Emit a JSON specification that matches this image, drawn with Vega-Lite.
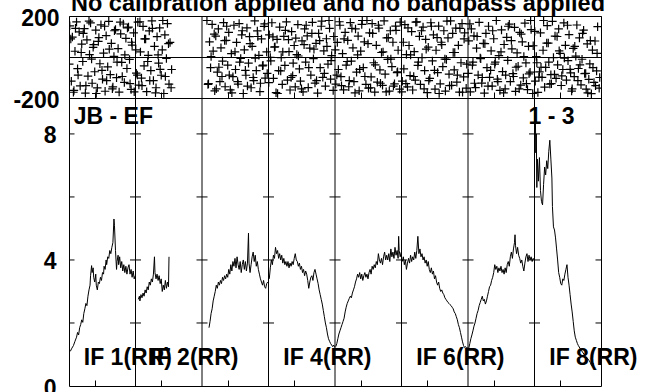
{
"$schema":"https://vega.github.io/schema/vega-lite/v6.json",
"padding":{"left":12,"top":-8,"right":0,"bottom":0},
"bounds":"flush",
"spacing":0,
"config":{
 "view":{"stroke":"black","strokeWidth":1},
 "font":"Liberation Sans",
 "axis":{"labelFont":"Liberation Sans","labelFontSize":23,"labelFontWeight":"bold","labelColor":"black","domain":false,"grid":false,"ticks":false,"title":null,"labelOverlap":false,"labelBound":false,"labelFlush":false}
},
"title":{"text":"No calibration applied and no bandpass applied","font":"Liberation Sans","fontSize":23.5,"fontWeight":"bold","color":"black","anchor":"middle","frame":"group","offset":-9,"dx":3},
"datasets":{
"bnd":[{"b":128.5},{"b":256.5},{"b":384.5},{"b":512.5},{"b":640.5},{"b":768.5},{"b":896.5}],
"yt":[{"b":0.5,"v":2},{"b":0.5,"v":4},{"b":0.5,"v":6},{"b":0.5,"v":8},
{"b":128.5,"v":2},{"b":128.5,"v":4},{"b":128.5,"v":6},{"b":128.5,"v":8},
{"b":256.5,"v":2},{"b":256.5,"v":4},{"b":256.5,"v":6},{"b":256.5,"v":8},
{"b":384.5,"v":2},{"b":384.5,"v":4},{"b":384.5,"v":6},{"b":384.5,"v":8},
{"b":512.5,"v":2},{"b":512.5,"v":4},{"b":512.5,"v":6},{"b":512.5,"v":8},
{"b":640.5,"v":2},{"b":640.5,"v":4},{"b":640.5,"v":6},{"b":640.5,"v":8},
{"b":768.5,"v":2},{"b":768.5,"v":4},{"b":768.5,"v":6},{"b":768.5,"v":8},
{"b":896.5,"v":2},{"b":896.5,"v":4},{"b":896.5,"v":6},{"b":896.5,"v":8},
{"b":1024.5,"v":2},{"b":1024.5,"v":4},{"b":1024.5,"v":6},{"b":1024.5,"v":8}],
"labs":[{"lab":"IF 1(RR)","ch0":1},{"lab":"IF 2(RR)","ch0":129},{"lab":"IF 4(RR)","ch0":385},{"lab":"IF 6(RR)","ch0":641},{"lab":"IF 8(RR)","ch0":897}],
"amp":[
{"i":1,"c":3,"a":1.1},{"i":1,"c":6,"a":1.2},{"i":1,"c":9,"a":1.28},{"i":1,"c":12,"a":1.42},{"i":1,"c":15,"a":1.55},{"i":1,"c":17,"a":1.7},{"i":1,"c":19,"a":1.62},{"i":1,"c":21,"a":1.85},{"i":1,"c":23,"a":1.95},{"i":1,"c":25,"a":2.1},{"i":1,"c":27,"a":2.02},{"i":1,"c":29,"a":2.3},{"i":1,"c":31,"a":2.45},{"i":1,"c":33,"a":2.62},{"i":1,"c":35,"a":2.55},{"i":1,"c":37,"a":2.85},{"i":1,"c":39,"a":3.05},{"i":1,"c":41,"a":3.2},{"i":1,"c":42,"a":3.5},{"i":1,"c":44,"a":3.82},{"i":1,"c":45,"a":3.6},{"i":1,"c":47,"a":3.75},{"i":1,"c":48,"a":3.45},{"i":1,"c":50,"a":3.3},{"i":1,"c":52,"a":3.55},{"i":1,"c":53,"a":3.2},{"i":1,"c":55,"a":3.05},{"i":1,"c":57,"a":3.3},{"i":1,"c":59,"a":3.25},{"i":1,"c":61,"a":3.45},{"i":1,"c":63,"a":3.35},{"i":1,"c":65,"a":3.6},{"i":1,"c":67,"a":3.55},{"i":1,"c":68,"a":3.8},{"i":1,"c":70,"a":3.7},{"i":1,"c":72,"a":4.0},{"i":1,"c":73,"a":3.85},{"i":1,"c":75,"a":4.1},{"i":1,"c":77,"a":4.05},{"i":1,"c":79,"a":4.3},{"i":1,"c":81,"a":4.2},{"i":1,"c":83,"a":4.4},{"i":1,"c":85,"a":4.55},{"i":1,"c":87,"a":5.3},{"i":1,"c":88,"a":5.1},{"i":1,"c":90,"a":4.3},{"i":1,"c":92,"a":3.7},{"i":1,"c":93,"a":3.95},{"i":1,"c":95,"a":4.15},{"i":1,"c":96,"a":3.85},{"i":1,"c":98,"a":4.1},{"i":1,"c":100,"a":3.75},{"i":1,"c":102,"a":3.95},{"i":1,"c":104,"a":3.65},{"i":1,"c":106,"a":3.85},{"i":1,"c":108,"a":3.6},{"i":1,"c":110,"a":3.8},{"i":1,"c":112,"a":3.55},{"i":1,"c":114,"a":3.75},{"i":1,"c":116,"a":3.85},{"i":1,"c":118,"a":3.55},{"i":1,"c":120,"a":3.7},{"i":1,"c":122,"a":3.45},{"i":1,"c":124,"a":3.65},{"i":1,"c":126,"a":3.4},{"i":1,"c":128,"a":3.5},
{"i":2,"c":134,"a":2.75},{"i":2,"c":136,"a":2.85},{"i":2,"c":137,"a":2.7},{"i":2,"c":139,"a":2.9},{"i":2,"c":141,"a":2.8},{"i":2,"c":143,"a":2.95},{"i":2,"c":145,"a":2.85},{"i":2,"c":147,"a":3.05},{"i":2,"c":149,"a":2.95},{"i":2,"c":151,"a":3.15},{"i":2,"c":153,"a":3.05},{"i":2,"c":155,"a":3.3},{"i":2,"c":157,"a":3.2},{"i":2,"c":159,"a":3.4},{"i":2,"c":161,"a":3.3},{"i":2,"c":163,"a":3.55},{"i":2,"c":165,"a":4.1},{"i":2,"c":166,"a":3.6},{"i":2,"c":168,"a":3.4},{"i":2,"c":170,"a":3.55},{"i":2,"c":172,"a":3.35},{"i":2,"c":174,"a":3.5},{"i":2,"c":176,"a":3.25},{"i":2,"c":178,"a":3.4},{"i":2,"c":180,"a":3.0},{"i":2,"c":182,"a":3.2},{"i":2,"c":184,"a":3.05},{"i":2,"c":186,"a":3.35},{"i":2,"c":188,"a":3.1},{"i":2,"c":190,"a":3.3},{"i":2,"c":192,"a":3.15},{"i":2,"c":193,"a":4.1},
{"i":3,"c":270,"a":1.85},{"i":3,"c":272,"a":2.05},{"i":3,"c":274,"a":2.3},{"i":3,"c":276,"a":2.45},{"i":3,"c":278,"a":2.7},{"i":3,"c":280,"a":2.85},{"i":3,"c":282,"a":3.0},{"i":3,"c":284,"a":3.2},{"i":3,"c":286,"a":3.1},{"i":3,"c":288,"a":3.3},{"i":3,"c":290,"a":3.2},{"i":3,"c":292,"a":3.35},{"i":3,"c":294,"a":3.25},{"i":3,"c":296,"a":3.45},{"i":3,"c":298,"a":3.35},{"i":3,"c":300,"a":3.5},{"i":3,"c":302,"a":3.4},{"i":3,"c":304,"a":3.55},{"i":3,"c":306,"a":3.45},{"i":3,"c":308,"a":3.7},{"i":3,"c":310,"a":3.55},{"i":3,"c":312,"a":3.85},{"i":3,"c":314,"a":3.65},{"i":3,"c":316,"a":3.95},{"i":3,"c":318,"a":3.8},{"i":3,"c":320,"a":4.05},{"i":3,"c":322,"a":3.75},{"i":3,"c":324,"a":4.1},{"i":3,"c":326,"a":3.85},{"i":3,"c":328,"a":3.7},{"i":3,"c":330,"a":3.95},{"i":3,"c":332,"a":3.6},{"i":3,"c":334,"a":3.85},{"i":3,"c":336,"a":4.0},{"i":3,"c":338,"a":3.7},{"i":3,"c":340,"a":3.95},{"i":3,"c":342,"a":3.65},{"i":3,"c":344,"a":3.9},{"i":3,"c":346,"a":4.85},{"i":3,"c":347,"a":3.9},{"i":3,"c":349,"a":3.6},{"i":3,"c":351,"a":3.85},{"i":3,"c":353,"a":4.1},{"i":3,"c":355,"a":4.25},{"i":3,"c":357,"a":3.95},{"i":3,"c":359,"a":4.15},{"i":3,"c":361,"a":3.8},{"i":3,"c":363,"a":3.95},{"i":3,"c":365,"a":3.7},{"i":3,"c":367,"a":3.55},{"i":3,"c":369,"a":3.4},{"i":3,"c":371,"a":3.3},{"i":3,"c":373,"a":3.2},{"i":3,"c":375,"a":3.35},{"i":3,"c":377,"a":3.15},{"i":3,"c":379,"a":3.1},{"i":3,"c":381,"a":3.25},{"i":3,"c":383,"a":3.3},
{"i":4,"c":386,"a":3.4},{"i":4,"c":388,"a":3.75},{"i":4,"c":390,"a":4.0},{"i":4,"c":392,"a":3.85},{"i":4,"c":394,"a":4.15},{"i":4,"c":396,"a":4.05},{"i":4,"c":398,"a":4.4},{"i":4,"c":400,"a":4.2},{"i":4,"c":402,"a":4.3},{"i":4,"c":404,"a":4.05},{"i":4,"c":406,"a":4.2},{"i":4,"c":408,"a":4.0},{"i":4,"c":410,"a":4.15},{"i":4,"c":412,"a":3.9},{"i":4,"c":414,"a":4.05},{"i":4,"c":416,"a":3.85},{"i":4,"c":418,"a":3.95},{"i":4,"c":420,"a":3.8},{"i":4,"c":422,"a":3.95},{"i":4,"c":424,"a":3.75},{"i":4,"c":426,"a":3.9},{"i":4,"c":428,"a":3.8},{"i":4,"c":430,"a":3.95},{"i":4,"c":432,"a":3.85},{"i":4,"c":434,"a":4.05},{"i":4,"c":436,"a":4.2},{"i":4,"c":438,"a":4.0},{"i":4,"c":440,"a":3.95},{"i":4,"c":442,"a":3.8},{"i":4,"c":444,"a":3.9},{"i":4,"c":446,"a":3.7},{"i":4,"c":448,"a":3.8},{"i":4,"c":450,"a":3.6},{"i":4,"c":452,"a":3.7},{"i":4,"c":454,"a":3.5},{"i":4,"c":456,"a":3.65},{"i":4,"c":458,"a":3.55},{"i":4,"c":460,"a":3.35},{"i":4,"c":462,"a":3.1},{"i":4,"c":464,"a":3.3},{"i":4,"c":466,"a":3.45},{"i":4,"c":468,"a":3.5},{"i":4,"c":470,"a":3.35},{"i":4,"c":472,"a":3.6},{"i":4,"c":474,"a":3.7},{"i":4,"c":476,"a":3.55},{"i":4,"c":478,"a":3.4},{"i":4,"c":480,"a":3.25},{"i":4,"c":482,"a":3.05},{"i":4,"c":484,"a":2.9},{"i":4,"c":486,"a":2.75},{"i":4,"c":488,"a":2.6},{"i":4,"c":490,"a":2.4},{"i":4,"c":492,"a":2.2},{"i":4,"c":494,"a":2.0},{"i":4,"c":496,"a":1.85},{"i":4,"c":498,"a":1.65},{"i":4,"c":500,"a":1.5},{"i":4,"c":502,"a":1.42},{"i":4,"c":504,"a":1.35},{"i":4,"c":506,"a":1.3},{"i":4,"c":508,"a":1.25},{"i":4,"c":510,"a":1.3},{"i":4,"c":512,"a":1.22},
{"i":5,"c":514,"a":1.25},{"i":5,"c":516,"a":1.35},{"i":5,"c":518,"a":1.5},{"i":5,"c":520,"a":1.65},{"i":5,"c":522,"a":1.75},{"i":5,"c":524,"a":1.85},{"i":5,"c":526,"a":1.95},{"i":5,"c":528,"a":2.05},{"i":5,"c":530,"a":2.15},{"i":5,"c":532,"a":2.35},{"i":5,"c":534,"a":2.5},{"i":5,"c":536,"a":2.62},{"i":5,"c":538,"a":2.7},{"i":5,"c":540,"a":2.78},{"i":5,"c":542,"a":2.85},{"i":5,"c":544,"a":2.8},{"i":5,"c":546,"a":2.95},{"i":5,"c":548,"a":3.05},{"i":5,"c":550,"a":3.15},{"i":5,"c":552,"a":3.3},{"i":5,"c":554,"a":3.4},{"i":5,"c":556,"a":3.55},{"i":5,"c":558,"a":3.45},{"i":5,"c":560,"a":3.6},{"i":5,"c":562,"a":3.4},{"i":5,"c":564,"a":3.55},{"i":5,"c":566,"a":3.35},{"i":5,"c":568,"a":3.5},{"i":5,"c":570,"a":3.6},{"i":5,"c":572,"a":3.45},{"i":5,"c":574,"a":3.55},{"i":5,"c":576,"a":3.4},{"i":5,"c":578,"a":3.6},{"i":5,"c":580,"a":3.7},{"i":5,"c":582,"a":3.55},{"i":5,"c":584,"a":3.8},{"i":5,"c":586,"a":3.7},{"i":5,"c":588,"a":3.85},{"i":5,"c":590,"a":3.75},{"i":5,"c":592,"a":3.95},{"i":5,"c":594,"a":3.85},{"i":5,"c":596,"a":4.2},{"i":5,"c":598,"a":4.0},{"i":5,"c":600,"a":3.9},{"i":5,"c":602,"a":4.05},{"i":5,"c":604,"a":3.85},{"i":5,"c":606,"a":4.1},{"i":5,"c":608,"a":4.25},{"i":5,"c":610,"a":4.0},{"i":5,"c":612,"a":4.15},{"i":5,"c":614,"a":4.0},{"i":5,"c":616,"a":4.2},{"i":5,"c":618,"a":3.95},{"i":5,"c":620,"a":4.35},{"i":5,"c":622,"a":4.1},{"i":5,"c":624,"a":4.25},{"i":5,"c":626,"a":4.05},{"i":5,"c":628,"a":4.4},{"i":5,"c":630,"a":4.15},{"i":5,"c":632,"a":4.3},{"i":5,"c":634,"a":4.05},{"i":5,"c":635,"a":4.75},{"i":5,"c":636,"a":4.3},{"i":5,"c":638,"a":4.1},{"i":5,"c":640,"a":4.25},
{"i":6,"c":642,"a":3.95},{"i":6,"c":644,"a":4.1},{"i":6,"c":646,"a":3.85},{"i":6,"c":648,"a":4.0},{"i":6,"c":650,"a":3.7},{"i":6,"c":652,"a":3.9},{"i":6,"c":654,"a":4.05},{"i":6,"c":656,"a":3.9},{"i":6,"c":658,"a":4.15},{"i":6,"c":660,"a":3.95},{"i":6,"c":662,"a":4.1},{"i":6,"c":664,"a":4.0},{"i":6,"c":666,"a":4.25},{"i":6,"c":668,"a":4.05},{"i":6,"c":670,"a":4.3},{"i":6,"c":672,"a":4.75},{"i":6,"c":674,"a":4.2},{"i":6,"c":676,"a":4.35},{"i":6,"c":678,"a":4.1},{"i":6,"c":680,"a":4.2},{"i":6,"c":682,"a":4.0},{"i":6,"c":684,"a":4.1},{"i":6,"c":686,"a":3.9},{"i":6,"c":688,"a":4.0},{"i":6,"c":690,"a":3.8},{"i":6,"c":692,"a":3.95},{"i":6,"c":694,"a":3.7},{"i":6,"c":696,"a":3.6},{"i":6,"c":698,"a":3.75},{"i":6,"c":700,"a":3.55},{"i":6,"c":702,"a":3.65},{"i":6,"c":704,"a":3.4},{"i":6,"c":706,"a":3.5},{"i":6,"c":708,"a":3.3},{"i":6,"c":710,"a":3.2},{"i":6,"c":712,"a":3.3},{"i":6,"c":714,"a":3.1},{"i":6,"c":716,"a":3.0},{"i":6,"c":718,"a":3.05},{"i":6,"c":720,"a":2.95},{"i":6,"c":722,"a":2.9},{"i":6,"c":724,"a":2.8},{"i":6,"c":726,"a":2.75},{"i":6,"c":728,"a":2.7},{"i":6,"c":730,"a":2.65},{"i":6,"c":732,"a":2.62},{"i":6,"c":734,"a":2.58},{"i":6,"c":736,"a":2.55},{"i":6,"c":738,"a":2.5},{"i":6,"c":740,"a":2.45},{"i":6,"c":742,"a":2.35},{"i":6,"c":744,"a":2.3},{"i":6,"c":746,"a":2.2},{"i":6,"c":748,"a":2.1},{"i":6,"c":750,"a":1.95},{"i":6,"c":752,"a":1.85},{"i":6,"c":754,"a":1.7},{"i":6,"c":756,"a":1.55},{"i":6,"c":758,"a":1.4},{"i":6,"c":760,"a":1.28},{"i":6,"c":762,"a":1.22},{"i":6,"c":764,"a":1.25},{"i":6,"c":766,"a":1.2},{"i":6,"c":768,"a":1.22},
{"i":7,"c":770,"a":1.2},{"i":7,"c":772,"a":1.35},{"i":7,"c":774,"a":1.5},{"i":7,"c":776,"a":1.62},{"i":7,"c":778,"a":1.75},{"i":7,"c":780,"a":1.9},{"i":7,"c":782,"a":2.0},{"i":7,"c":784,"a":2.15},{"i":7,"c":786,"a":2.3},{"i":7,"c":788,"a":2.4},{"i":7,"c":790,"a":2.55},{"i":7,"c":792,"a":2.65},{"i":7,"c":794,"a":2.75},{"i":7,"c":796,"a":2.85},{"i":7,"c":798,"a":2.7},{"i":7,"c":800,"a":2.75},{"i":7,"c":802,"a":2.6},{"i":7,"c":804,"a":2.7},{"i":7,"c":806,"a":2.85},{"i":7,"c":808,"a":3.0},{"i":7,"c":810,"a":3.15},{"i":7,"c":812,"a":3.2},{"i":7,"c":814,"a":3.35},{"i":7,"c":816,"a":3.45},{"i":7,"c":818,"a":3.6},{"i":7,"c":820,"a":3.85},{"i":7,"c":822,"a":3.7},{"i":7,"c":824,"a":3.8},{"i":7,"c":826,"a":3.6},{"i":7,"c":828,"a":3.75},{"i":7,"c":830,"a":3.65},{"i":7,"c":832,"a":3.8},{"i":7,"c":834,"a":3.6},{"i":7,"c":836,"a":3.7},{"i":7,"c":838,"a":3.55},{"i":7,"c":840,"a":3.75},{"i":7,"c":842,"a":3.6},{"i":7,"c":844,"a":3.85},{"i":7,"c":846,"a":3.95},{"i":7,"c":848,"a":3.8},{"i":7,"c":850,"a":4.1},{"i":7,"c":852,"a":4.25},{"i":7,"c":854,"a":4.05},{"i":7,"c":856,"a":4.35},{"i":7,"c":858,"a":4.55},{"i":7,"c":859,"a":4.8},{"i":7,"c":860,"a":4.45},{"i":7,"c":862,"a":4.2},{"i":7,"c":864,"a":4.4},{"i":7,"c":866,"a":4.15},{"i":7,"c":868,"a":4.05},{"i":7,"c":870,"a":3.9},{"i":7,"c":872,"a":4.0},{"i":7,"c":874,"a":3.8},{"i":7,"c":876,"a":3.65},{"i":7,"c":878,"a":3.9},{"i":7,"c":880,"a":4.1},{"i":7,"c":882,"a":4.2},{"i":7,"c":884,"a":3.95},{"i":7,"c":886,"a":4.15},{"i":7,"c":888,"a":4.0},{"i":7,"c":890,"a":4.1},{"i":7,"c":892,"a":3.95},{"i":7,"c":894,"a":4.05},{"i":7,"c":896,"a":4.0},
{"i":8,"c":898,"a":8.85},{"i":8,"c":899,"a":7.4},{"i":8,"c":900,"a":8.0},{"i":8,"c":901,"a":6.3},{"i":8,"c":902,"a":7.2},{"i":8,"c":904,"a":6.5},{"i":8,"c":906,"a":7.25},{"i":8,"c":908,"a":6.2},{"i":8,"c":910,"a":5.85},{"i":8,"c":912,"a":5.75},{"i":8,"c":914,"a":6.4},{"i":8,"c":916,"a":6.95},{"i":8,"c":918,"a":6.7},{"i":8,"c":920,"a":7.15},{"i":8,"c":922,"a":6.9},{"i":8,"c":924,"a":7.45},{"i":8,"c":926,"a":7.8},{"i":8,"c":928,"a":7.2},{"i":8,"c":930,"a":6.6},{"i":8,"c":931,"a":5.7},{"i":8,"c":933,"a":5.05},{"i":8,"c":935,"a":4.95},{"i":8,"c":937,"a":4.7},{"i":8,"c":939,"a":4.35},{"i":8,"c":941,"a":4.0},{"i":8,"c":943,"a":3.6},{"i":8,"c":945,"a":3.45},{"i":8,"c":947,"a":3.25},{"i":8,"c":949,"a":3.2},{"i":8,"c":951,"a":3.4},{"i":8,"c":953,"a":3.35},{"i":8,"c":955,"a":3.55},{"i":8,"c":957,"a":3.7},{"i":8,"c":959,"a":3.85},{"i":8,"c":961,"a":3.45},{"i":8,"c":963,"a":3.2},{"i":8,"c":965,"a":2.9},{"i":8,"c":967,"a":2.6},{"i":8,"c":969,"a":2.35},{"i":8,"c":971,"a":2.05},{"i":8,"c":973,"a":1.75},{"i":8,"c":975,"a":1.55},{"i":8,"c":977,"a":1.45},{"i":8,"c":979,"a":1.35},{"i":8,"c":981,"a":1.28},{"i":8,"c":984,"a":1.2},{"i":8,"c":987,"a":1.12},{"i":8,"c":990,"a":1.05},{"i":8,"c":993,"a":0.98},{"i":8,"c":996,"a":0.92},{"i":8,"c":999,"a":0.86},{"i":8,"c":1002,"a":0.8},{"i":8,"c":1004,"a":0.74},{"i":8,"c":1006,"a":0.66},{"i":8,"c":1008,"a":0.62},{"i":8,"c":1010,"a":0.72}
],
"ph":[
{"c":2,"p":152},{"c":5,"p":-118},{"c":7,"p":97},{"c":10,"p":-163},{"c":12,"p":28},{"c":15,"p":171},{"c":17,"p":-57},{"c":20,"p":123},{"c":22,"p":-141},{"c":25,"p":63},{"c":27,"p":-22},{"c":30,"p":138},{"c":32,"p":-176},{"c":35,"p":84},{"c":37,"p":-93},{"c":40,"p":12},{"c":42,"p":166},{"c":45,"p":-128},{"c":47,"p":47},{"c":50,"p":-72},{"c":52,"p":131},{"c":55,"p":-151},{"c":57,"p":76},{"c":60,"p":-33},{"c":62,"p":157},{"c":65,"p":-108},{"c":67,"p":19},{"c":70,"p":-167},{"c":72,"p":104},{"c":75,"p":-48},{"c":77,"p":174},{"c":80,"p":-86},{"c":82,"p":66},{"c":85,"p":-146},{"c":87,"p":3},{"c":90,"p":134},{"c":92,"p":-101},{"c":95,"p":41},{"c":97,"p":-171},{"c":100,"p":113},{"c":102,"p":-26},{"c":105,"p":161},{"c":107,"p":-124},{"c":110,"p":91},{"c":112,"p":-56},{"c":115,"p":146},{"c":117,"p":-12},{"c":120,"p":-158},{"c":122,"p":58},{"c":125,"p":118},
{"c":1,"p":-35},{"c":4,"p":88},{"c":9,"p":-172},{"c":13,"p":140},{"c":18,"p":-88},{"c":24,"p":22},{"c":28,"p":115},{"c":33,"p":-140},{"c":39,"p":175},{"c":44,"p":-10},{"c":48,"p":60},{"c":53,"p":-178},{"c":58,"p":95},{"c":64,"p":-65},{"c":69,"p":150},{"c":73,"p":-115},{"c":78,"p":38},{"c":84,"p":-155},{"c":88,"p":128},{"c":93,"p":-25},{"c":99,"p":170},{"c":103,"p":-95},{"c":108,"p":10},{"c":113,"p":142},{"c":118,"p":-130},{"c":121,"p":72},{"c":126,"p":-170},
{"c":130,"p":-79},{"c":133,"p":170},{"c":135,"p":-137},{"c":138,"p":25},{"c":140,"p":-103},{"c":143,"p":149},{"c":145,"p":-43},{"c":148,"p":88},{"c":150,"p":-169},{"c":153,"p":8},{"c":155,"p":127},{"c":158,"p":-66},{"c":160,"p":176},{"c":163,"p":-115},{"c":165,"p":52},{"c":168,"p":-150},{"c":170,"p":99},{"c":173,"p":-30},{"c":175,"p":142},{"c":178,"p":-89},{"c":180,"p":35},{"c":183,"p":-178},{"c":185,"p":108},{"c":188,"p":-7},{"c":190,"p":163},{"c":193,"p":-132},{"c":195,"p":71},{"c":198,"p":-61},
{"c":129,"p":35},{"c":132,"p":-88},{"c":137,"p":172},{"c":141,"p":-140},{"c":146,"p":88},{"c":152,"p":-22},{"c":156,"p":-115},{"c":161,"p":140},{"c":167,"p":-175},{"c":172,"p":10},{"c":176,"p":-60},{"c":181,"p":178},{"c":186,"p":-95},{"c":192,"p":65},{"c":197,"p":-150},
{"c":266,"p":178},{"c":268,"p":-134},{"c":271,"p":74},{"c":273,"p":-52},{"c":276,"p":159},{"c":278,"p":29},{"c":281,"p":-165},{"c":283,"p":102},{"c":286,"p":-74},{"c":288,"p":137},{"c":291,"p":-120},{"c":293,"p":45},{"c":296,"p":-20},{"c":298,"p":168},{"c":301,"p":-145},{"c":303,"p":81},{"c":306,"p":-40},{"c":308,"p":120},{"c":311,"p":-160},{"c":313,"p":16},{"c":316,"p":-96},{"c":318,"p":155},{"c":321,"p":-61},{"c":323,"p":71},{"c":326,"p":-132},{"c":328,"p":163},{"c":331,"p":-7},{"c":333,"p":108},{"c":336,"p":-178},{"c":338,"p":35},{"c":341,"p":-89},{"c":343,"p":142},{"c":346,"p":-30},{"c":348,"p":99},{"c":351,"p":-150},{"c":353,"p":52},{"c":356,"p":-115},{"c":358,"p":176},{"c":361,"p":-66},{"c":363,"p":127},{"c":366,"p":8},{"c":368,"p":-169},{"c":371,"p":88},{"c":373,"p":-43},{"c":376,"p":149},{"c":378,"p":-103},{"c":381,"p":25},
{"c":269,"p":-130},{"c":274,"p":2},{"c":280,"p":112},{"c":284,"p":-155},{"c":289,"p":-50},{"c":295,"p":-95},{"c":300,"p":80},{"c":304,"p":150},{"c":309,"p":-88},{"c":314,"p":-175},{"c":320,"p":25},{"c":325,"p":-120},{"c":329,"p":-25},{"c":334,"p":128},{"c":340,"p":-65},{"c":344,"p":-142},{"c":349,"p":65},{"c":355,"p":-100},{"c":359,"p":-5},{"c":364,"p":100},{"c":369,"p":-128},{"c":374,"p":-40},{"c":377,"p":162},{"c":382,"p":-80},
{"c":386,"p":108},{"c":389,"p":-19},{"c":391,"p":167},{"c":394,"p":-104},{"c":396,"p":48},{"c":399,"p":-174},{"c":401,"p":86},{"c":404,"p":-66},{"c":406,"p":146},{"c":409,"p":-3},{"c":411,"p":-134},{"c":414,"p":101},{"c":416,"p":-41},{"c":419,"p":171},{"c":421,"p":-113},{"c":424,"p":26},{"c":426,"p":-161},{"c":429,"p":124},{"c":431,"p":-91},{"c":434,"p":56},{"c":436,"p":-146},{"c":439,"p":12},{"c":441,"p":158},{"c":444,"p":-58},{"c":446,"p":-118},{"c":449,"p":79},{"c":451,"p":-170},{"c":454,"p":137},{"c":456,"p":-25},{"c":459,"p":103},{"c":461,"p":-149},{"c":464,"p":43},{"c":466,"p":-88},{"c":469,"p":169},{"c":471,"p":-8},{"c":474,"p":-127},{"c":476,"p":66},{"c":479,"p":-176},{"c":481,"p":115},{"c":484,"p":-52},{"c":486,"p":150},{"c":489,"p":-99},{"c":491,"p":30},{"c":494,"p":-142},{"c":496,"p":89},{"c":499,"p":-35},{"c":501,"p":178},{"c":504,"p":-108},{"c":506,"p":7},{"c":509,"p":-163},
{"c":385,"p":-125},{"c":388,"p":-2},{"c":393,"p":98},{"c":397,"p":50},{"c":402,"p":-178},{"c":408,"p":-68},{"c":412,"p":25},{"c":417,"p":130},{"c":423,"p":85},{"c":428,"p":-100},{"c":432,"p":-30},{"c":437,"p":92},{"c":442,"p":5},{"c":448,"p":-155},{"c":453,"p":60},{"c":457,"p":155},{"c":462,"p":-52},{"c":468,"p":115},{"c":472,"p":38},{"c":477,"p":-115},{"c":483,"p":80},{"c":487,"p":175},{"c":492,"p":-80},{"c":497,"p":52},{"c":502,"p":140},{"c":505,"p":-18},{"c":510,"p":100},
{"c":514,"p":-132},{"c":517,"p":71},{"c":519,"p":-61},{"c":522,"p":155},{"c":524,"p":-96},{"c":527,"p":16},{"c":529,"p":-160},{"c":532,"p":120},{"c":534,"p":-40},{"c":537,"p":81},{"c":539,"p":-145},{"c":542,"p":168},{"c":544,"p":-20},{"c":547,"p":45},{"c":549,"p":-120},{"c":552,"p":137},{"c":554,"p":-74},{"c":557,"p":102},{"c":559,"p":-165},{"c":562,"p":29},{"c":564,"p":159},{"c":567,"p":-52},{"c":569,"p":74},{"c":572,"p":-134},{"c":574,"p":178},{"c":577,"p":-152},{"c":579,"p":118},{"c":582,"p":-97},{"c":584,"p":163},{"c":587,"p":-28},{"c":589,"p":-171},{"c":592,"p":57},{"c":594,"p":-123},{"c":597,"p":141},{"c":599,"p":-63},{"c":602,"p":22},{"c":604,"p":-138},{"c":607,"p":176},{"c":609,"p":-84},{"c":612,"p":93},{"c":614,"p":-12},{"c":617,"p":-166},{"c":619,"p":128},{"c":622,"p":-47},{"c":624,"p":72},{"c":627,"p":-131},{"c":629,"p":151},{"c":632,"p":-76},{"c":634,"p":33},{"c":637,"p":-157},
{"c":513,"p":35},{"c":516,"p":-88},{"c":521,"p":172},{"c":525,"p":-140},{"c":530,"p":88},{"c":536,"p":-22},{"c":540,"p":-115},{"c":545,"p":140},{"c":551,"p":-175},{"c":556,"p":10},{"c":560,"p":-60},{"c":565,"p":178},{"c":570,"p":-95},{"c":576,"p":65},{"c":581,"p":-150},{"c":585,"p":115},{"c":590,"p":-38},{"c":596,"p":155},{"c":600,"p":-128},{"c":605,"p":25},{"c":611,"p":-170},{"c":615,"p":95},{"c":620,"p":-10},{"c":625,"p":-142},{"c":630,"p":130},{"c":633,"p":-72},{"c":638,"p":170},
{"c":642,"p":-118},{"c":645,"p":-58},{"c":647,"p":158},{"c":650,"p":12},{"c":652,"p":-146},{"c":655,"p":56},{"c":657,"p":-91},{"c":660,"p":124},{"c":662,"p":-161},{"c":665,"p":26},{"c":667,"p":-113},{"c":670,"p":171},{"c":672,"p":-41},{"c":675,"p":101},{"c":677,"p":-134},{"c":680,"p":-3},{"c":682,"p":146},{"c":685,"p":-66},{"c":687,"p":86},{"c":690,"p":-174},{"c":692,"p":48},{"c":695,"p":-104},{"c":697,"p":167},{"c":700,"p":-19},{"c":702,"p":108},{"c":705,"p":-157},{"c":707,"p":33},{"c":710,"p":-76},{"c":712,"p":151},{"c":715,"p":-131},{"c":717,"p":72},{"c":720,"p":-47},{"c":722,"p":128},{"c":725,"p":-166},{"c":727,"p":-12},{"c":730,"p":93},{"c":732,"p":-84},{"c":735,"p":176},{"c":737,"p":-138},{"c":740,"p":22},{"c":742,"p":-63},{"c":745,"p":141},{"c":747,"p":-123},{"c":750,"p":57},{"c":752,"p":-171},{"c":755,"p":-28},{"c":757,"p":163},{"c":760,"p":-97},{"c":762,"p":118},{"c":765,"p":-152},
{"c":641,"p":-170},{"c":644,"p":72},{"c":649,"p":-130},{"c":653,"p":142},{"c":658,"p":10},{"c":664,"p":-95},{"c":668,"p":170},{"c":673,"p":-25},{"c":679,"p":128},{"c":684,"p":-155},{"c":688,"p":38},{"c":693,"p":-115},{"c":698,"p":150},{"c":704,"p":-65},{"c":709,"p":95},{"c":713,"p":-178},{"c":718,"p":60},{"c":724,"p":-10},{"c":728,"p":175},{"c":733,"p":-140},{"c":739,"p":115},{"c":743,"p":22},{"c":748,"p":-88},{"c":753,"p":140},{"c":758,"p":-172},{"c":761,"p":88},{"c":766,"p":-35},
{"c":770,"p":79},{"c":773,"p":-170},{"c":775,"p":137},{"c":778,"p":-25},{"c":780,"p":103},{"c":783,"p":-149},{"c":785,"p":43},{"c":788,"p":-88},{"c":790,"p":169},{"c":793,"p":-8},{"c":795,"p":-127},{"c":798,"p":66},{"c":800,"p":-176},{"c":803,"p":115},{"c":805,"p":-52},{"c":808,"p":150},{"c":810,"p":-99},{"c":813,"p":30},{"c":815,"p":-142},{"c":818,"p":89},{"c":820,"p":-35},{"c":823,"p":178},{"c":825,"p":-108},{"c":828,"p":7},{"c":830,"p":-163},{"c":833,"p":132},{"c":835,"p":-71},{"c":838,"p":61},{"c":840,"p":-155},{"c":843,"p":96},{"c":845,"p":-16},{"c":848,"p":160},{"c":850,"p":-120},{"c":853,"p":40},{"c":855,"p":-81},{"c":858,"p":145},{"c":860,"p":-168},{"c":863,"p":20},{"c":865,"p":-45},{"c":868,"p":120},{"c":870,"p":-137},{"c":873,"p":74},{"c":875,"p":-102},{"c":878,"p":165},{"c":880,"p":-29},{"c":883,"p":-159},{"c":885,"p":52},{"c":888,"p":-74},{"c":890,"p":134},{"c":893,"p":-178},
{"c":769,"p":-80},{"c":772,"p":162},{"c":777,"p":-40},{"c":781,"p":-128},{"c":786,"p":100},{"c":792,"p":-5},{"c":796,"p":-100},{"c":801,"p":65},{"c":807,"p":-142},{"c":812,"p":-65},{"c":816,"p":128},{"c":821,"p":-25},{"c":826,"p":-120},{"c":832,"p":25},{"c":837,"p":-175},{"c":841,"p":-88},{"c":846,"p":150},{"c":852,"p":80},{"c":856,"p":-95},{"c":861,"p":-50},{"c":867,"p":-155},{"c":871,"p":112},{"c":876,"p":2},{"c":881,"p":-130},{"c":886,"p":-82},{"c":889,"p":178},{"c":894,"p":55},
{"c":898,"p":-118},{"c":901,"p":-28},{"c":903,"p":-173},{"c":906,"p":-73},{"c":908,"p":118},{"c":911,"p":-99},{"c":913,"p":33},{"c":916,"p":-147},{"c":918,"p":-51},{"c":921,"p":153},{"c":923,"p":68},{"c":926,"p":-132},{"c":928,"p":-86},{"c":931,"p":174},{"c":933,"p":-3},{"c":936,"p":102},{"c":938,"p":-104},{"c":941,"p":-38},{"c":943,"p":137},{"c":946,"p":18},{"c":948,"p":-139},{"c":951,"p":-61},{"c":953,"p":166},{"c":956,"p":57},{"c":958,"p":-113},{"c":961,"p":-18},{"c":963,"p":109},{"c":966,"p":-77},{"c":968,"p":-166},{"c":971,"p":42},{"c":973,"p":-96},{"c":976,"p":4},{"c":978,"p":156},{"c":981,"p":-56},{"c":983,"p":93},{"c":986,"p":-136},{"c":988,"p":-11},{"c":991,"p":131},{"c":993,"p":-81},{"c":996,"p":-157},{"c":998,"p":64},{"c":1001,"p":-109},{"c":1003,"p":-34},{"c":1006,"p":-179},{"c":1008,"p":34},{"c":1011,"p":-124},{"c":1013,"p":78},{"c":1016,"p":-68},{"c":1018,"p":148},{"c":1021,"p":-152},
{"c":897,"p":125},{"c":900,"p":2},{"c":905,"p":-98},{"c":909,"p":-50},{"c":914,"p":178},{"c":920,"p":68},{"c":924,"p":-25},{"c":929,"p":-130},{"c":935,"p":-85},{"c":940,"p":100},{"c":944,"p":30},{"c":949,"p":-92},{"c":954,"p":-5},{"c":960,"p":155},{"c":965,"p":-60},{"c":969,"p":-155},{"c":974,"p":52},{"c":980,"p":-115},{"c":984,"p":-38},{"c":989,"p":115},{"c":995,"p":-80},{"c":999,"p":-175},{"c":1004,"p":80},{"c":1009,"p":-52},{"c":1014,"p":-140},{"c":1017,"p":18},{"c":1022,"p":-100}
]
},
"vconcat":[
{
 "width":532,"height":82,
 "layer":[
  {"data":{"name":"bnd"},"mark":{"type":"rule","color":"black","strokeWidth":1},
   "encoding":{"x":{"field":"b","type":"quantitative","scale":{"domain":[0.5,1024.5],"nice":false,"zero":false},
     "axis":{"orient":"bottom","values":[50,100,178,228,306,356,434,484,562,612,690,740,818,868,946,996],"ticks":true,"tickSize":-6,"tickColor":"black","tickWidth":1,"labels":false}}}},
  {"data":{"name":"ph"},"mark":{"type":"point","shape":"M-1,0L1,0M0,-1L0,1","filled":false,"stroke":"black","strokeWidth":1.2,"size":72,"opacity":1,"clip":true},
   "encoding":{"x":{"field":"c","type":"quantitative"},
     "y":{"field":"p","type":"quantitative","scale":{"domain":[-200,200],"nice":false,"zero":false},
       "axis":{"values":[-200,0,200],"grid":true,"gridColor":"black","gridOpacity":1,"gridWidth":1,"labelExpr":"datum.value == 0 ? '' : (datum.value < 0 ? '-' + abs(datum.value) : '' + datum.value)","labelPadding":10,"labelOffset":2,"labelBaseline":"middle"}}}}
 ]
},
{
 "width":532,"height":288,
 "layer":[
  {"data":{"name":"bnd"},"mark":{"type":"rule","color":"black","strokeWidth":1},
   "encoding":{"x":{"field":"b","type":"quantitative","scale":{"domain":[0.5,1024.5],"nice":false,"zero":false},
     "axis":{"orient":"bottom","values":[50,100,178,228,306,356,434,484,562,612,690,740,818,868,946,996],"ticks":true,"tickSize":-6,"tickColor":"black","tickWidth":1,"labels":false}}}},
  {"data":{"name":"yt"},"mark":{"type":"tick","orient":"horizontal","color":"black","size":11,"thickness":1,"opacity":1,"clip":true},
   "encoding":{"x":{"field":"b","type":"quantitative"},"y":{"field":"v","type":"quantitative","scale":{"domain":[0,9.14],"nice":false,"zero":false},
     "axis":{"values":[0,2,4,6,8],"labelExpr":"datum.value % 4 == 0 ? '' + datum.value : ''","labelPadding":13,"labelOffset":2,"labelBaseline":"middle"}}}},
  {"data":{"name":"amp"},"mark":{"type":"line","color":"black","strokeWidth":1,"clip":true},
   "encoding":{"x":{"field":"c","type":"quantitative"},"y":{"field":"a","type":"quantitative"},"detail":{"field":"i","type":"nominal"}}},
  {"data":{"name":"labs"},"mark":{"type":"text","align":"left","baseline":"middle","dx":14.5,"font":"Liberation Sans","fontSize":23,"fontWeight":"bold","color":"black"},
   "encoding":{"x":{"field":"ch0","type":"quantitative"},"y":{"datum":0.9},"text":{"field":"lab"}}},
  {"data":{"values":[{"t":"JB - EF"}]},"mark":{"type":"text","align":"left","baseline":"middle","dx":4.5,"font":"Liberation Sans","fontSize":23,"fontWeight":"bold","color":"black"},
   "encoding":{"x":{"datum":1},"y":{"datum":8.55},"text":{"field":"t"}}},
  {"data":{"values":[{"t":"1 - 3"}]},"mark":{"type":"text","align":"left","baseline":"middle","font":"Liberation Sans","fontSize":23,"fontWeight":"bold","color":"black"},
   "encoding":{"x":{"datum":885},"y":{"datum":8.55},"text":{"field":"t"}}}
 ]
}
]
}
